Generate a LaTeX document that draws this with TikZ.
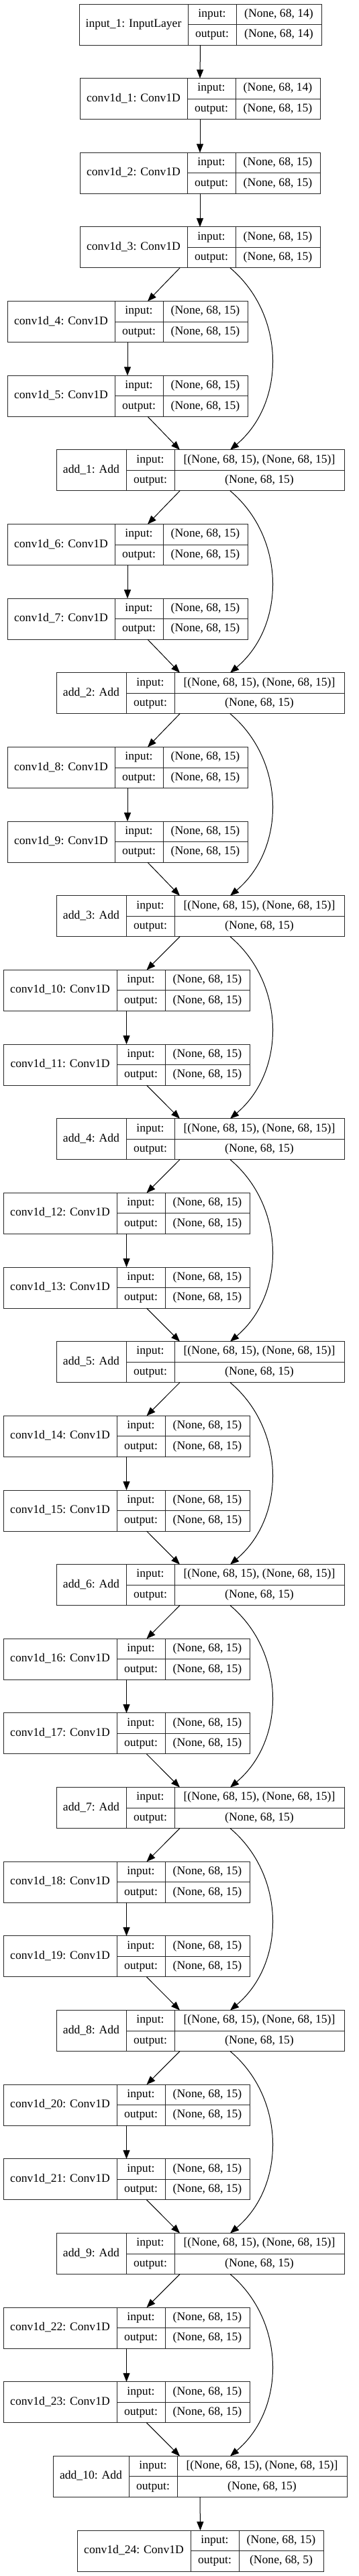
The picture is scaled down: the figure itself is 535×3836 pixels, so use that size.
\documentclass[tikz,border=0pt]{standalone}
\usepackage{fontspec}
\setmainfont{Liberation Serif}
\usetikzlibrary{positioning,arrows.meta}

\newcommand{\layerbox}[9]{%
  \node[rec, minimum width={#4+#5+#6}] (#1) at (#2,#3) {};
  \node[cell, minimum width=#4, minimum height=61pt, right=0pt of #1.west] (#1-n) {#7};
  \node[cell, minimum width=#5, anchor=north west] (#1-ki) at (#1-n.north east) {input:};
  \node[cell, minimum width=#5, anchor=south west] (#1-ko) at (#1-n.south east) {output:};
  \node[cell, minimum width=#6, anchor=north west] (#1-vi) at (#1-ki.north east) {#8};
  \node[cell, minimum width=#6, anchor=north west] (#1-vo) at (#1-ko.north east) {#9};
}
\newcommand{\shp}[1]{(None, 68, #1)}
\newcommand{\pair}{[(None, 68, 15), (None, 68, 15)]}

\begin{document}
\begin{tikzpicture}[x=1pt, y=-1pt,
  rec/.style={rectangle, inner sep=0pt, outer sep=0pt, minimum height=61pt},
  cell/.style={draw=black!85, line width=1pt, inner sep=0pt, outer sep=0pt,
    minimum height=30.5pt, text height=12pt, text depth=4pt,
    font=\fontsize{17.6}{20}\selectfont},
  flow/.style={line width=1pt, -{Triangle[length=13pt,width=10pt]}}]
  \useasboundingbox (0,0) rectangle (535,3836);

  \layerbox{input1}{298.5}{36.5}{162}{72}{127}{input\_1: InputLayer}{\shp{14}}{\shp{14}}
  \layerbox{conv1}{298}{147.15}{160}{72}{126}{conv1d\_1: Conv1D}{\shp{14}}{\shp{15}}
  \layerbox{conv2}{298}{257.8}{160}{72}{126}{conv1d\_2: Conv1D}{\shp{15}}{\shp{15}}
  \layerbox{conv3}{298}{368.45}{160}{72}{126}{conv1d\_3: Conv1D}{\shp{15}}{\shp{15}}

  \layerbox{conv4}{190}{479.1}{160}{72}{126}{conv1d\_4: Conv1D}{\shp{15}}{\shp{15}}
  \layerbox{conv5}{190}{589.75}{160}{72}{126}{conv1d\_5: Conv1D}{\shp{15}}{\shp{15}}
  \layerbox{add1}{298.5}{700.4}{104}{72}{253}{add\_1: Add}{\pair}{\shp{15}}

  \layerbox{conv6}{190}{811.05}{160}{72}{126}{conv1d\_6: Conv1D}{\shp{15}}{\shp{15}}
  \layerbox{conv7}{190}{921.7}{160}{72}{126}{conv1d\_7: Conv1D}{\shp{15}}{\shp{15}}
  \layerbox{add2}{298.5}{1032.35}{104}{72}{253}{add\_2: Add}{\pair}{\shp{15}}

  \layerbox{conv8}{190}{1143.0}{160}{72}{126}{conv1d\_8: Conv1D}{\shp{15}}{\shp{15}}
  \layerbox{conv9}{190}{1253.65}{160}{72}{126}{conv1d\_9: Conv1D}{\shp{15}}{\shp{15}}
  \layerbox{add3}{298.5}{1364.3}{104}{72}{253}{add\_3: Add}{\pair}{\shp{15}}

  \layerbox{conv10}{188.5}{1474.95}{169}{72}{126}{conv1d\_10: Conv1D}{\shp{15}}{\shp{15}}
  \layerbox{conv11}{188.5}{1585.6}{169}{72}{126}{conv1d\_11: Conv1D}{\shp{15}}{\shp{15}}
  \layerbox{add4}{298.5}{1696.25}{104}{72}{253}{add\_4: Add}{\pair}{\shp{15}}

  \layerbox{conv12}{188.5}{1806.9}{169}{72}{126}{conv1d\_12: Conv1D}{\shp{15}}{\shp{15}}
  \layerbox{conv13}{188.5}{1917.55}{169}{72}{126}{conv1d\_13: Conv1D}{\shp{15}}{\shp{15}}
  \layerbox{add5}{298.5}{2028.2}{104}{72}{253}{add\_5: Add}{\pair}{\shp{15}}

  \layerbox{conv14}{188.5}{2138.85}{169}{72}{126}{conv1d\_14: Conv1D}{\shp{15}}{\shp{15}}
  \layerbox{conv15}{188.5}{2249.5}{169}{72}{126}{conv1d\_15: Conv1D}{\shp{15}}{\shp{15}}
  \layerbox{add6}{298.5}{2360.15}{104}{72}{253}{add\_6: Add}{\pair}{\shp{15}}

  \layerbox{conv16}{188.5}{2470.8}{169}{72}{126}{conv1d\_16: Conv1D}{\shp{15}}{\shp{15}}
  \layerbox{conv17}{188.5}{2581.45}{169}{72}{126}{conv1d\_17: Conv1D}{\shp{15}}{\shp{15}}
  \layerbox{add7}{298.5}{2692.1}{104}{72}{253}{add\_7: Add}{\pair}{\shp{15}}

  \layerbox{conv18}{188.5}{2802.75}{169}{72}{126}{conv1d\_18: Conv1D}{\shp{15}}{\shp{15}}
  \layerbox{conv19}{188.5}{2913.4}{169}{72}{126}{conv1d\_19: Conv1D}{\shp{15}}{\shp{15}}
  \layerbox{add8}{298.5}{3024.05}{104}{72}{253}{add\_8: Add}{\pair}{\shp{15}}

  \layerbox{conv20}{188.5}{3134.7}{169}{72}{126}{conv1d\_20: Conv1D}{\shp{15}}{\shp{15}}
  \layerbox{conv21}{188.5}{3245.35}{169}{72}{126}{conv1d\_21: Conv1D}{\shp{15}}{\shp{15}}
  \layerbox{add9}{298.5}{3356.0}{104}{72}{253}{add\_9: Add}{\pair}{\shp{15}}

  \layerbox{conv22}{188.5}{3466.65}{169}{72}{126}{conv1d\_22: Conv1D}{\shp{15}}{\shp{15}}
  \layerbox{conv23}{188.5}{3577.3}{169}{72}{126}{conv1d\_23: Conv1D}{\shp{15}}{\shp{15}}
  \layerbox{add10}{298}{3687.95}{113}{72}{253}{add\_10: Add}{\pair}{\shp{15}}

  \layerbox{conv24}{298.5}{3798.6}{169}{72}{126}{conv1d\_24: Conv1D}{\shp{15}}{\shp{5}}

  \draw[flow] (input1.south) -- (conv1.north);
  \draw[flow] (conv1.south) -- (conv2.north);
  \draw[flow] (conv2.south) -- (conv3.north);

  \draw[flow] ([xshift=-30pt]conv3.south) -- ([xshift=30pt]conv4.north);
  \draw[flow] (conv4.south) -- (conv5.north);
  \draw[flow] ([xshift=30pt]conv5.south) -- ([xshift=-30.5pt]add1.north);
  \draw[flow] ([xshift=45pt]conv3.south) .. controls +(83,70) and +(83,-70) .. ([xshift=44.5pt]add1.north);

  \draw[flow] ([xshift=-30.5pt]add1.south) -- ([xshift=30pt]conv6.north);
  \draw[flow] (conv6.south) -- (conv7.north);
  \draw[flow] ([xshift=30pt]conv7.south) -- ([xshift=-30.5pt]add2.north);
  \draw[flow] ([xshift=44.5pt]add1.south) .. controls +(83,70) and +(83,-70) .. ([xshift=44.5pt]add2.north);

  \draw[flow] ([xshift=-30.5pt]add2.south) -- ([xshift=30pt]conv8.north);
  \draw[flow] (conv8.south) -- (conv9.north);
  \draw[flow] ([xshift=30pt]conv9.south) -- ([xshift=-30.5pt]add3.north);
  \draw[flow] ([xshift=44.5pt]add2.south) .. controls +(83,70) and +(83,-70) .. ([xshift=44.5pt]add3.north);

  \draw[flow] ([xshift=-30.5pt]add3.south) -- ([xshift=30pt]conv10.north);
  \draw[flow] (conv10.south) -- (conv11.north);
  \draw[flow] ([xshift=30pt]conv11.south) -- ([xshift=-30.5pt]add4.north);
  \draw[flow] ([xshift=44.5pt]add3.south) .. controls +(83,70) and +(83,-70) .. ([xshift=44.5pt]add4.north);

  \draw[flow] ([xshift=-30.5pt]add4.south) -- ([xshift=30pt]conv12.north);
  \draw[flow] (conv12.south) -- (conv13.north);
  \draw[flow] ([xshift=30pt]conv13.south) -- ([xshift=-30.5pt]add5.north);
  \draw[flow] ([xshift=44.5pt]add4.south) .. controls +(83,70) and +(83,-70) .. ([xshift=44.5pt]add5.north);

  \draw[flow] ([xshift=-30.5pt]add5.south) -- ([xshift=30pt]conv14.north);
  \draw[flow] (conv14.south) -- (conv15.north);
  \draw[flow] ([xshift=30pt]conv15.south) -- ([xshift=-30.5pt]add6.north);
  \draw[flow] ([xshift=44.5pt]add5.south) .. controls +(83,70) and +(83,-70) .. ([xshift=44.5pt]add6.north);

  \draw[flow] ([xshift=-30.5pt]add6.south) -- ([xshift=30pt]conv16.north);
  \draw[flow] (conv16.south) -- (conv17.north);
  \draw[flow] ([xshift=30pt]conv17.south) -- ([xshift=-30.5pt]add7.north);
  \draw[flow] ([xshift=44.5pt]add6.south) .. controls +(83,70) and +(83,-70) .. ([xshift=44.5pt]add7.north);

  \draw[flow] ([xshift=-30.5pt]add7.south) -- ([xshift=30pt]conv18.north);
  \draw[flow] (conv18.south) -- (conv19.north);
  \draw[flow] ([xshift=30pt]conv19.south) -- ([xshift=-30.5pt]add8.north);
  \draw[flow] ([xshift=44.5pt]add7.south) .. controls +(83,70) and +(83,-70) .. ([xshift=44.5pt]add8.north);

  \draw[flow] ([xshift=-30.5pt]add8.south) -- ([xshift=30pt]conv20.north);
  \draw[flow] (conv20.south) -- (conv21.north);
  \draw[flow] ([xshift=30pt]conv21.south) -- ([xshift=-30.5pt]add9.north);
  \draw[flow] ([xshift=44.5pt]add8.south) .. controls +(83,70) and +(83,-70) .. ([xshift=44.5pt]add9.north);

  \draw[flow] ([xshift=-30.5pt]add9.south) -- ([xshift=30pt]conv22.north);
  \draw[flow] (conv22.south) -- (conv23.north);
  \draw[flow] ([xshift=30pt]conv23.south) -- ([xshift=-30pt]add10.north);
  \draw[flow] ([xshift=44.5pt]add9.south) .. controls +(83,70) and +(83,-70) .. ([xshift=45pt]add10.north);

  \draw[flow] (add10.south) -- (conv24.north);
\end{tikzpicture}
\end{document}
